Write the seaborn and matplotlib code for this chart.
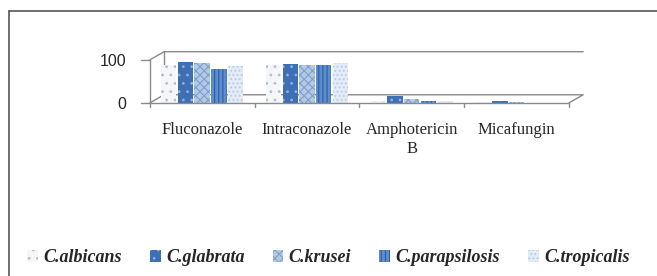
import numpy as np
import pandas as pd
import seaborn as sns
import matplotlib.pyplot as plt
from matplotlib.lines import Line2D
from matplotlib.patches import Patch

drugs = ["Fluconazole", "Intraconazole", "Amphotericin\nB", "Micafungin"]
species = ["C.albicans", "C.glabrata", "C.krusei", "C.parapsilosis", "C.tropicalis"]
albicans = [88, 88, 5, 2]
glabrata = [95, 90, 15, 4]
krusei = [92, 87, 10, 3]
parapsilosis = [80, 88, 5, 1]
tropicalis = [86, 92, 5, 1]

colors = ["#f4f6f9", "#3d6fb4", "#b3c9e6", "#5b8ccf", "#e2ebf6"]
hatch_colors = ["#b8bcc4", "#8fb0dd", "#7f9fcc", "#2f5e9e", "#b9cbe4"]
hatches = ["..", "..", "xxxx", "||||", "...."]

rows = []
for sp, vals in zip(species, [albicans, glabrata, krusei, parapsilosis, tropicalis]):
    for d, v in zip(drugs, vals):
        rows.append({"drug": d, "species": sp, "value": v})
df = pd.DataFrame(rows)

sns.set_style("white")
plt.rcParams["hatch.linewidth"] = 0.8

fig = plt.figure(figsize=(6.57, 2.76), dpi=100)
ax = fig.add_axes([0.228, 0.627, 0.638, 0.156])

sns.barplot(data=df, x="drug", y="value", hue="species", order=drugs,
            hue_order=species, palette=colors, width=0.8, gap=0.08,
            ax=ax, legend=False, saturation=1)

for i, cont in enumerate(ax.containers):
    for bar in cont:
        bar.set_hatch(hatches[i])
        bar.set_edgecolor(hatch_colors[i])
        bar.set_linewidth(0)

ax.set_ylim(0, 100)
ax.set_xlim(-0.5, 3.5)
ax.set_yticks([0, 100])
ax.set_yticklabels(["0", "100"], fontsize=11.5, family="Liberation Sans")
ax.tick_params(axis="y", length=0, pad=17)
ax.set_xlabel("")
ax.set_ylabel("")
ax.tick_params(axis="x", length=0, pad=14)
for lab in ax.get_xticklabels():
    lab.set_fontfamily("Liberation Serif")
    lab.set_fontsize(12)
    lab.set_linespacing(1.25)
for s in ax.spines.values():
    s.set_visible(False)

# pseudo 3D frame
gray = "#8a8a8a"
dx, dy = 0.034, 0.19
ax.plot([0, 1], [0, 0], transform=ax.transAxes, color=gray, lw=1, clip_on=False)
ax.plot([0, dx, 1 + dx, 1], [0, dy, dy, 0], transform=ax.transAxes,
        color=gray, lw=1, clip_on=False, zorder=0)
ax.plot([0, dx, 1 + dx], [1.0, 1 + dy, 1 + dy], transform=ax.transAxes,
        color=gray, lw=1, clip_on=False, zorder=0)
ax.plot([dx, dx], [dy, 1 + dy], transform=ax.transAxes, color=gray, lw=1,
        clip_on=False, zorder=0)
ax.plot([0, 0], [0, 1], transform=ax.transAxes, color=gray, lw=1, clip_on=False)
for t in range(5):
    ax.plot([t / 4, t / 4], [0, -0.1], transform=ax.transAxes, color=gray,
            lw=1, clip_on=False)
for yv in [0, 1]:
    ax.plot([-0.02, 0], [yv, yv], transform=ax.transAxes, color=gray, lw=1,
            clip_on=False)

# outer chart frame
fig.add_artist(Line2D([9 / 657, 9 / 657], [0, 1 - 11 / 276], color="#555555", lw=1.2))
fig.add_artist(Line2D([9 / 657, 1], [1 - 11 / 276, 1 - 11 / 276], color="#555555", lw=1.2))

handles = [Patch(facecolor=colors[i], edgecolor=hatch_colors[i], hatch=hatches[i], lw=0)
           for i in range(5)]
leg = fig.legend(handles, species, loc="center", bbox_to_anchor=(0.5, 1 - 258 / 276),
                 ncol=5, frameon=False, handlelength=0.6, handleheight=0.6,
                 handletextpad=0.3, columnspacing=1.55,
                 prop={"family": "Liberation Serif", "style": "italic",
                       "weight": "bold", "size": 13})

fig.savefig("out.png", dpi=100)
